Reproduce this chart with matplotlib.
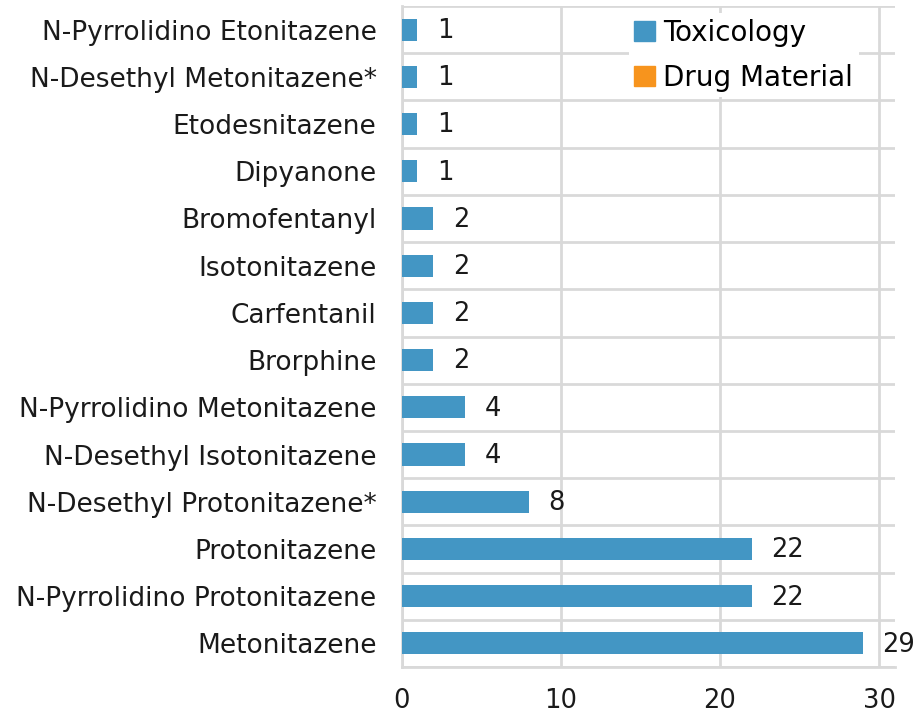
import numpy as np
import matplotlib
matplotlib.use("Agg")
import matplotlib.pyplot as plt
from matplotlib.patches import Patch

categories = [
    "N-Pyrrolidino Etonitazene",
    "N-Desethyl Metonitazene*",
    "Etodesnitazene",
    "Dipyanone",
    "Bromofentanyl",
    "Isotonitazene",
    "Carfentanil",
    "Brorphine",
    "N-Pyrrolidino Metonitazene",
    "N-Desethyl Isotonitazene",
    "N-Desethyl Protonitazene*",
    "Protonitazene",
    "N-Pyrrolidino Protonitazene",
    "Metonitazene",
]
toxicology = [1, 1, 1, 1, 2, 2, 2, 2, 4, 4, 8, 22, 22, 29]
drugMaterial = [0] * len(categories)
xTicks = [0, 10, 20, 30]

blue = "#4396C4"
orange = "#F7941D"
gridColor = "#D9D9D9"
textColor = "#1a1a1a"

plt.rcParams["font.family"] = ["DejaVu Sans"]

fig = plt.figure(figsize=(9.21, 7.15), dpi=100)
ax = fig.add_axes([401.5 / 921, 1 - 667 / 715, (895 - 401.5) / 921, (667 - 6) / 715])

y = np.arange(len(categories))
ax.barh(y, toxicology, height=0.47, color=blue, linewidth=0, zorder=3)
ax.barh(y, drugMaterial, left=toxicology, height=0.47, color=orange, linewidth=0, zorder=3)

for yi, (t, d) in enumerate(zip(toxicology, drugMaterial)):
    ax.annotate(str(t + d), (t + d, yi), xytext=(14, -1), textcoords="offset points",
                va="center", ha="left", fontsize=18.5, color=textColor)

ax.set_ylim(len(categories) - 0.5, -0.5)
ax.set_xlim(0, 31)
ax.set_yticks(y)
ax.set_yticklabels(categories, fontsize=19, color=textColor)
ax.set_xticks(xTicks)
ax.set_xticklabels([str(v) for v in xTicks], fontsize=18.5, color=textColor)
ax.tick_params(axis="both", length=0)
ax.tick_params(axis="y", pad=18)
ax.tick_params(axis="x", pad=15)

# row boundaries
ax.set_yticks(np.arange(-0.5, len(categories), 1.0), minor=True)
ax.tick_params(axis="y", which="minor", length=0)
ax.grid(axis="y", which="minor", color=gridColor, linewidth=2, zorder=0)
ax.grid(axis="x", which="major", color=gridColor, linewidth=2, zorder=0)

for s in ["top", "right"]:
    ax.spines[s].set_visible(False)
for s in ["left", "bottom"]:
    ax.spines[s].set_color(gridColor)
    ax.spines[s].set_linewidth(2)

handles = [Patch(color=blue, label="Toxicology"), Patch(color=orange, label="Drug Material")]
ax.legend(handles=handles, loc="upper right", bbox_to_anchor=(0.955, 1.01), frameon=True,
          facecolor="white", edgecolor="none", framealpha=1, fontsize=20,
          handlelength=0.75, handleheight=0.75, handletextpad=0.3, labelspacing=0.6,
          borderpad=0.2)

plt.savefig("out.png", dpi=100)
